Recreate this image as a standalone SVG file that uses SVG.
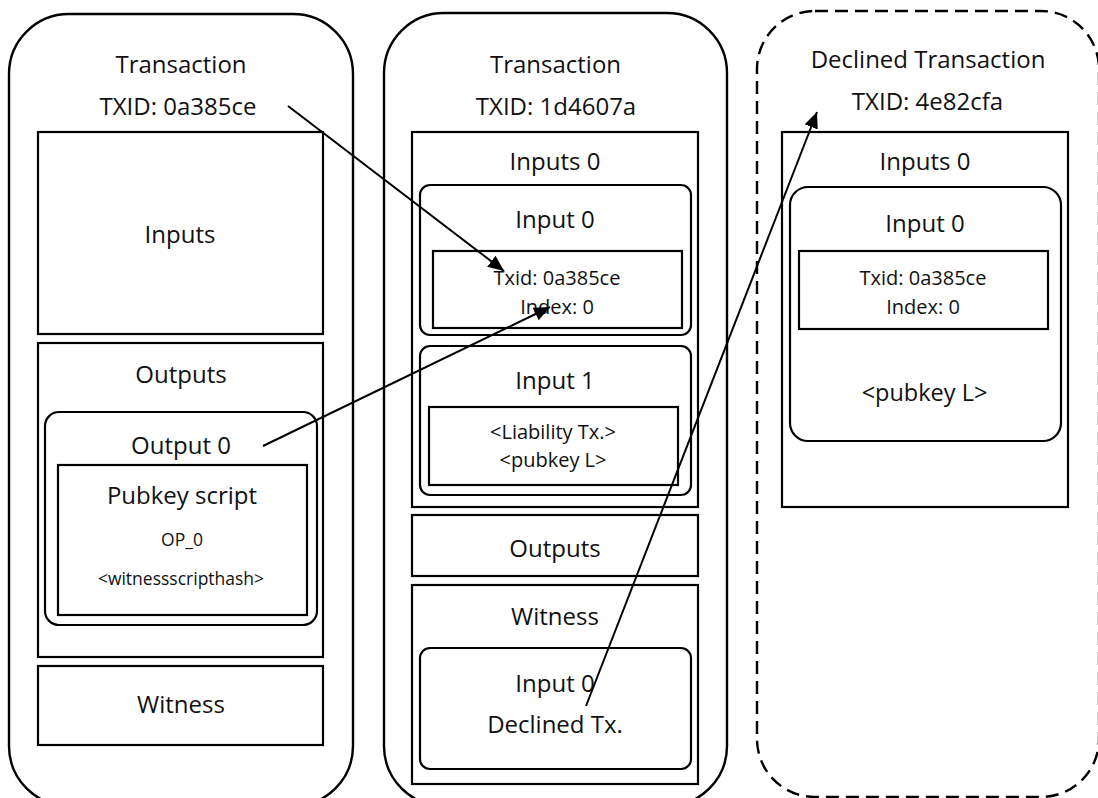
<svg xmlns="http://www.w3.org/2000/svg" width="1098" height="798" viewBox="0 0 1098 798">
<style>
.box{fill:none;stroke:#000;stroke-width:2.2}
.outer{fill:none;stroke:#000;stroke-width:2.4}
.dash{fill:none;stroke:#000;stroke-width:2.4;stroke-dasharray:13 7}
text{font-family:"Open Sans","Noto Sans","Liberation Sans",sans-serif;fill:#111;text-anchor:middle}
.b{font-size:24px}
.s{font-size:20px}
.xs{font-size:17.5px}
.conn{stroke:#000;stroke-width:2;fill:none;marker-end:url(#ah)}
</style>
<defs>
<marker id="ah" markerUnits="userSpaceOnUse" markerWidth="18" markerHeight="14" refX="16" refY="7" orient="auto">
<path d="M0,0 L16,7 L0,14 Z" fill="#000"/>
</marker>
</defs>
<rect width="1098" height="798" fill="#fff"/>

<g id="tx1">
<rect class="outer" x="9" y="14" width="344" height="792" rx="60"/>
<text class="b" x="181" y="73">Transaction</text>
<text class="b" x="178" y="115">TXID: 0a385ce</text>
<g id="tx1-inputs">
<rect class="box" x="38" y="132" width="285" height="202"/>
<text class="b" x="180" y="243">Inputs</text>
</g>
<g id="tx1-outputs">
<rect class="box" x="38" y="343" width="285" height="314"/>
<text class="b" x="181" y="383">Outputs</text>
<g id="tx1-output0">
<rect class="box" x="45" y="412" width="272" height="213" rx="14"/>
<text class="b" x="181" y="454">Output 0</text>
<g id="tx1-pubkey">
<rect class="box" x="58" y="465" width="249" height="150"/>
<text class="b" x="182" y="504">Pubkey script</text>
<text class="xs" x="182" y="546">OP_0</text>
<text class="xs" x="181" y="585">&lt;witnessscripthash&gt;</text>
</g>
</g>
</g>
<g id="tx1-witness">
<rect class="box" x="38" y="666" width="285" height="79"/>
<text class="b" x="181" y="713">Witness</text>
</g>
</g>

<g id="tx2">
<rect class="outer" x="384" y="13" width="343" height="793" rx="60"/>
<text class="b" x="555.5" y="73">Transaction</text>
<text class="b" x="556" y="115">TXID: 1d4607a</text>
<g id="tx2-inputs">
<rect class="box" x="412" y="132" width="286" height="375"/>
<text class="b" x="555" y="170">Inputs 0</text>
<g id="tx2-input0">
<rect class="box" x="420" y="185" width="271" height="150" rx="10"/>
<text class="b" x="555" y="228">Input 0</text>
<rect class="box" x="433" y="251" width="249" height="77"/>
<text class="s" x="557" y="285">Txid: 0a385ce</text>
<text class="s" x="557" y="314">Index: 0</text>
</g>
<g id="tx2-input1">
<rect class="box" x="420" y="346" width="271" height="149" rx="10"/>
<text class="b" x="555" y="389">Input 1</text>
<rect class="box" x="429" y="407" width="249" height="78"/>
<text class="s" x="553" y="439">&lt;Liability Tx.&gt;</text>
<text class="s" x="553" y="467">&lt;pubkey L&gt;</text>
</g>
</g>
<g id="tx2-outputs">
<rect class="box" x="412" y="515" width="286" height="61"/>
<text class="b" x="555" y="557">Outputs</text>
</g>
<g id="tx2-witness">
<rect class="box" x="412" y="585" width="286" height="199"/>
<text class="b" x="555" y="625">Witness</text>
<rect class="box" x="420" y="648" width="271" height="121" rx="10"/>
<text class="b" x="555" y="692">Input 0</text>
<text class="b" x="555" y="733">Declined Tx.</text>
</g>
</g>

<g id="tx3">
<rect class="dash" x="757" y="11" width="342" height="786" rx="58"/>
<text class="b" x="928" y="68">Declined Transaction</text>
<text class="b" x="927.5" y="110">TXID: 4e82cfa</text>
<g id="tx3-inputs">
<rect class="box" x="782" y="132" width="286" height="375"/>
<text class="b" x="925" y="170">Inputs 0</text>
<g id="tx3-input0">
<rect class="box" x="790" y="187" width="271" height="254" rx="18"/>
<text class="b" x="925" y="232">Input 0</text>
<rect class="box" x="799" y="251" width="249" height="78"/>
<text class="s" x="923" y="285">Txid: 0a385ce</text>
<text class="s" x="923" y="314">Index: 0</text>
<text class="b" x="924.5" y="401" style="font-size:23.5px">&lt;pubkey L&gt;</text>
</g>
</g>
</g>

<g id="connectors">
<line class="conn" x1="288" y1="106" x2="504" y2="271"/>
<line class="conn" x1="263" y1="446" x2="550" y2="307"/>
<line class="conn" x1="586" y1="706" x2="817" y2="112"/>
</g>
</svg>
